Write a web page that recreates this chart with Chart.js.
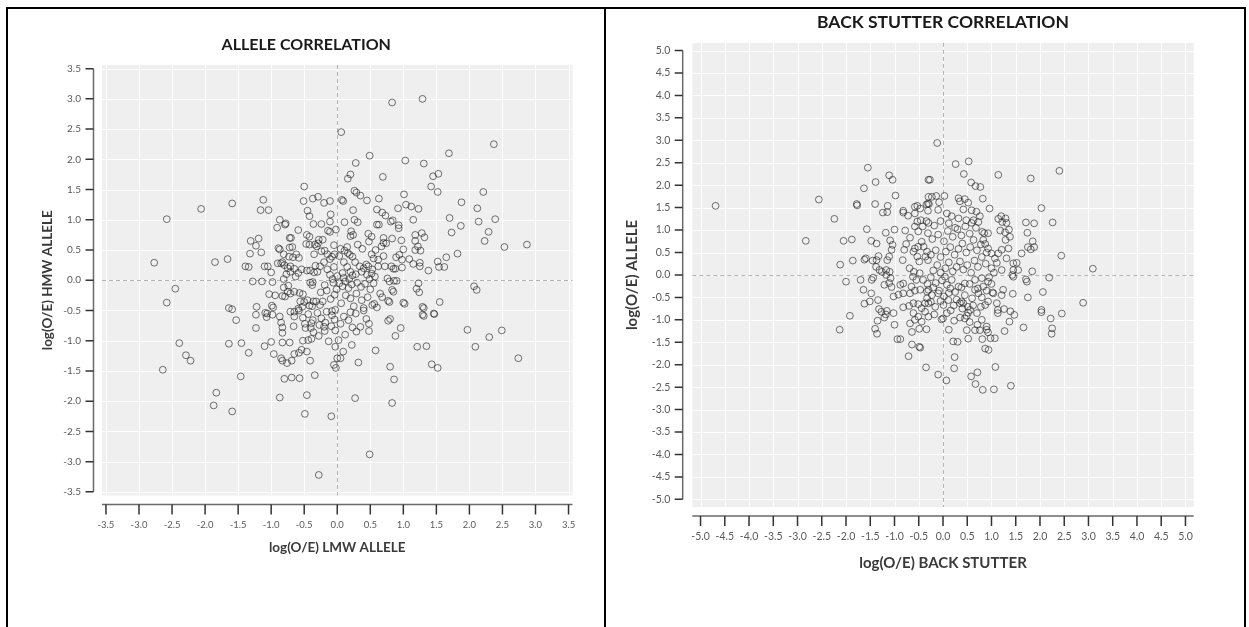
<!DOCTYPE html>
<html>
<head>
<meta charset="utf-8">
<script src="https://cdn.jsdelivr.net/npm/chart.js@4.4.1/dist/chart.umd.min.js"></script>
<style>
  html, body { margin: 0; padding: 0; background: #fff; }
  body { width: 1249px; height: 627px; position: relative; overflow: hidden; }
  canvas { position: absolute; top: 0; }
  #left { left: 0; }
  #right { left: 606px; }
  .frame { position: absolute; left: 6px; top: 7px; width: 1240px; height: 700px; border: 2px solid #000; box-sizing: border-box; }
  .divider { position: absolute; left: 604px; top: 7px; width: 2px; height: 700px; background: #000; }
</style>
</head>
<body>
<canvas id="left" width="604" height="627"></canvas>
<canvas id="right" width="643" height="627"></canvas>
<div class="frame"></div>
<div class="divider"></div>
<script>
// ---- data: [x, y] ----
const alleleTitle = 'ALLELE CORRELATION';
const alleleXLabel = 'log(O/E) LMW ALLELE';
const alleleYLabel = 'log(O/E) HMW ALLELE';
const alleleTicks = [-3.5, -3, -2.5, -2, -1.5, -1, -0.5, 0, 0.5, 1, 1.5, 2, 2.5, 3, 3.5];

const alleleCorrPoints = [
  [0.83,2.94],[1.29,3.00],[0.06,2.45],[0.49,2.06],[0.28,1.94],[0.20,1.75],[0.16,1.68],[1.03,1.98],
  [1.31,1.93],[1.69,2.10],[2.37,2.25],[0.69,1.71],[1.45,1.72],[1.53,1.76],[1.42,1.55],[1.52,1.46],
  [2.21,1.46],[-0.50,1.55],
  [0.26,1.48],[0.29,1.45],[0.35,1.40],[0.07,1.33],[0.09,1.31],[0.45,1.32],[0.63,1.35],[1.01,1.42],
  [1.88,1.29],[2.12,1.19],[-0.51,1.31],[-0.37,1.35],[-0.29,1.38],[-0.20,1.28],[-0.11,1.31],[-0.45,1.15],
  [-0.42,1.06],[0.92,1.19],[1.04,1.25],[1.12,1.22],[1.23,1.18],[0.60,1.17],[0.68,1.12],[0.73,1.07],
  [0.24,1.16],[-0.10,1.09],[-1.12,1.33],[-1.16,1.16],[-1.04,1.16],[-0.87,1.00],[-2.06,1.18],[-1.59,1.27],
  [-2.58,1.01],[0.11,0.96],[0.26,1.00],[0.31,0.96],[-0.11,0.97],[1.15,1.00],[1.70,1.03],[2.14,0.97],
  [2.39,1.01],[0.81,0.97],[0.84,0.99],
  [0.60,0.92],[0.63,0.92],[0.93,0.91],[0.93,0.86],[1.87,0.90],[2.29,0.80],[2.23,0.65],[2.53,0.55],
  [2.87,0.59],[1.73,0.79],[-0.91,0.87],[-0.79,0.92],[-0.78,0.94],[-0.59,0.83],[-0.46,0.75],[-0.42,0.72],
  [-0.36,0.93],[-0.24,0.93],[-0.14,0.82],[-0.11,0.80],[-0.02,0.84],[0.21,0.81],[0.24,0.75],[0.20,0.73],
  [0.47,0.77],[0.52,0.72],[0.48,0.64],[0.70,0.70],[0.70,0.62],[0.67,0.56],[0.74,0.61],[0.31,0.59],
  [0.83,0.69],[0.97,0.66],[1.18,0.75],[1.28,0.78],[1.32,0.71],[1.18,0.65],[1.22,0.56],[1.26,0.49],
  [1.18,0.50],[1.00,0.51],[-1.31,0.65],[-1.23,0.57],[-1.19,0.69],[-0.89,0.53],[-0.87,0.51],[-0.72,0.70],
  [-0.70,0.70],[-0.72,0.54],[-0.68,0.55],[-0.47,0.60],[-0.42,0.59],[-0.34,0.59],[-0.28,0.67],[-0.22,0.67],
  [-0.29,0.61],[0.11,0.49],[0.05,0.52],[0.15,0.55],[-0.05,0.58],[0.38,0.52],[0.58,0.50],
  [-2.77,0.29],[-1.85,0.30],[-1.66,0.35],[-1.39,0.23],[-1.34,0.22],[-1.32,0.44],[-1.15,0.46],[-1.10,0.23],
  [-1.05,0.23],[-1.00,0.13],[-0.90,0.28],[-0.85,0.28],[-0.81,0.43],[-0.83,0.30],[-0.80,0.25],[-0.75,0.20],
  [-0.77,0.10],[-0.81,0.02],[-0.73,0.39],[-0.67,0.38],[-0.62,0.43],[-0.58,0.37],[-0.71,0.23],[-0.65,0.19],
  [-0.71,0.14],[-0.63,0.06],[-0.59,0.12],[-0.54,0.18],[-0.46,0.16],[-0.41,0.16],[-0.35,0.43],[-0.31,0.56],
  [-0.24,0.48],[-0.19,0.49],[-0.15,0.43],[-0.33,0.24],[-0.35,0.13],[-0.30,0.14],[-0.26,0.23],[-0.11,0.35],
  [-0.08,0.39],[-0.04,0.43],[-0.11,0.09],[-0.07,0.02],[0.00,0.07],[0.03,0.40],[0.19,0.42],[0.27,0.30],
  [0.34,0.23],[0.37,0.14],[0.45,0.09],[0.49,0.02],[0.52,0.43],[0.55,0.36],[0.62,0.34],[0.70,0.40],
  [0.89,0.38],[0.94,0.42],[0.98,0.34],[0.82,0.23],[0.85,0.19],[0.88,0.19],[0.98,0.21],[0.76,0.03],
  [1.09,0.35],[1.15,0.27],[1.25,0.29],[1.25,0.23],[1.52,0.31],[1.65,0.38],[1.54,0.22],[1.62,0.22],
  [1.38,0.16],[1.82,0.44],[0.47,0.23],[0.53,0.18],[0.62,0.23],[0.72,0.23],[0.52,0.11],[0.57,0.06],
  [0.16,0.45],[0.23,0.39],[0.10,0.30],[0.15,0.22],[0.20,0.14],[0.28,0.10],[0.08,0.12],[0.10,0.04],
  [0.18,0.02],[0.23,0.08],[0.40,0.20],[0.44,0.26],[-0.20,0.30],[-0.15,0.18],[-0.05,0.22],
  [-2.58,-0.37],[-2.45,-0.14],[-1.64,-0.46],[-1.59,-0.48],[-1.28,-0.02],[-1.14,-0.02],[-0.98,-0.03],[-1.03,-0.23],
  [-0.94,-0.25],[-0.97,-0.45],[-1.22,-0.44],[-0.99,-0.42],[-0.74,-0.09],[-0.81,-0.12],[-0.83,-0.26],[-0.79,-0.27],
  [-0.75,-0.19],[-0.71,-0.22],[-0.65,-0.19],[-0.57,-0.21],[-0.52,-0.23],[-0.50,-0.36],[-0.56,-0.35],[-0.45,-0.33],
  [-0.36,-0.35],[-0.32,-0.35],[-0.22,-0.35],[-0.42,-0.42],[-0.38,-0.43],[-0.26,-0.41],[-0.53,-0.44],[-0.59,-0.47],
  [-0.41,-0.04],[-0.37,-0.03],[-0.38,-0.08],[-0.19,-0.08],[-0.06,-0.04],[-0.01,-0.15],[-0.04,-0.24],[-0.10,-0.31],
  [0.79,-0.02],[0.86,-0.01],[0.90,-0.01],[0.83,-0.16],[0.85,-0.19],[1.23,-0.05],[1.20,-0.14],[1.24,-0.20],
  [1.02,-0.39],[0.79,-0.36],[0.68,-0.28],[0.65,-0.22],[1.31,-0.46],[1.55,-0.36],[2.07,-0.10],[2.11,-0.16],
  [0.77,-0.34],[1.00,-0.37],[1.29,-0.44],[0.03,-0.05],[0.08,-0.10],[0.12,-0.02],[0.17,-0.13],[0.22,-0.07],
  [0.30,-0.04],[0.36,-0.11],[0.42,-0.06],[0.50,-0.15],[0.55,-0.05],[0.13,-0.25],[0.20,-0.30],[0.29,-0.22],
  [0.37,-0.33],[0.46,-0.28],[0.56,-0.39],[0.06,-0.38],[0.25,-0.43],[0.40,-0.46],[0.60,-0.45],[-0.16,-0.17],
  [-0.25,-0.20],
  [-1.06,-0.55],[-0.98,-0.57],[-0.16,-0.52],[-0.08,-0.51],[-0.03,-0.49],[-0.65,-0.52],[1.31,-0.59],[1.47,-0.56],
  [1.29,-0.57],[1.46,-0.55],[-1.53,-0.66],[-1.23,-0.57],[-1.09,-0.54],[-1.07,-0.61],[-1.23,-0.79],[-0.87,-0.60],
  [-0.85,-0.70],[-0.83,-0.78],[-0.83,-0.87],[0.77,-0.67],[0.80,-0.64],[0.96,-0.79],[0.88,-0.92],[1.97,-0.82],
  [2.30,-0.94],[2.49,-0.83],[-0.71,-0.52],[-0.65,-0.60],[-0.58,-0.50],[-0.52,-0.62],[-0.44,-0.56],[-0.37,-0.66],
  [-0.30,-0.54],[-0.24,-0.63],[-0.18,-0.70],[-0.66,-0.76],[-0.49,-0.72],[-0.48,-0.79],[-0.40,-0.79],[-0.39,-0.71],
  [-0.36,-0.86],[-0.27,-0.74],[-0.20,-0.77],[-0.19,-0.84],[-0.09,-0.76],[-0.08,-0.58],[-0.04,-0.65],
  [0.02,-0.99],[0.17,-0.66],[0.20,-0.53],[0.28,-0.55],[0.29,-0.85],[0.35,-0.77],[0.44,-0.64],[0.48,-0.72],
  [0.48,-0.84],[0.53,-0.41],[0.40,-0.50],[0.10,-0.60],[0.05,-0.72],[0.23,-0.78],[0.12,-0.90],
  [-2.39,-1.04],[-2.29,-1.24],[-2.22,-1.33],[-2.64,-1.48],[-1.64,-1.05],[-1.45,-1.04],[-1.34,-1.20],[-1.10,-1.09],
  [-1.00,-1.02],[-0.83,-1.03],[-0.72,-1.03],[-0.96,-1.22],[-0.85,-1.29],[-0.83,-1.33],[-0.76,-1.37],[-0.69,-1.33],
  [-0.65,-1.22],[-0.58,-1.20],[-0.54,-1.15],[-0.46,-1.18],[-0.41,-1.33],[-0.52,-1.00],[-0.44,-0.99],[-0.39,-0.97],
  [-0.28,-0.92],[-0.13,-1.01],[-0.03,-0.83],[-0.05,-1.40],[-0.02,-1.45],[0.00,-1.29],[0.58,-1.16],[0.22,-1.07],
  [0.32,-1.36],[0.80,-1.43],[1.21,-1.10],[1.35,-1.09],[1.43,-1.39],[1.52,-1.45],[2.09,-1.10],[2.74,-1.29],
  [0.09,-1.18],[0.05,-1.29],[-0.03,-1.10],
  [-0.80,-1.63],[-0.69,-1.61],[-0.57,-1.62],[-1.46,-1.59],[-0.34,-1.57],[-1.83,-1.86],[-1.87,-2.07],[-1.59,-2.17],
  [-0.87,-1.94],[-0.46,-1.90],[-0.49,-2.21],[-0.09,-2.25],[-0.28,-3.22],[0.86,-1.64],[0.27,-1.95],[0.83,-2.03],
  [0.49,-2.88]
];

const stutterTitle = 'BACK STUTTER CORRELATION';
const stutterXLabel = 'log(O/E) BACK STUTTER';
const stutterYLabel = 'log(O/E) ALLELE';
const stutterTicks = [-5, -4.5, -4, -3.5, -3, -2.5, -2, -1.5, -1, -0.5, 0, 0.5, 1, 1.5, 2, 2.5, 3, 3.5, 4, 4.5, 5];

const stutterCorrPoints = [
  [-4.69,1.54],[-2.56,1.68],[-2.24,1.25],[-2.83,0.76],[-2.05,0.76],[-1.88,0.79],[-2.12,0.23],[-1.86,0.32],
  [-1.78,1.58],[-1.77,1.55],[-1.63,1.93],[-1.55,2.39],[-1.39,2.07],[-1.40,1.58],[-1.57,1.02],[-1.48,0.76],
  [-1.37,0.70],[-1.62,0.34],[-1.59,0.37],[-1.45,0.32],[-1.37,0.33],[-1.33,0.42],[-1.38,0.18],[-1.31,0.11],
  [-1.17,0.11],[-1.10,0.07],[-1.11,2.22],[-1.04,2.12],[-0.98,1.77],[-1.14,1.54],[-1.24,1.39],[-1.15,1.40],
  [-1.00,1.01],[-1.18,0.94],[-1.09,0.77],[-1.04,0.67],[-1.06,0.56],[-1.15,0.33],[-1.11,0.41],[-0.82,1.43],
  [-0.82,1.39],[-0.72,1.32],[-0.78,0.99],[-0.68,0.83],[-0.76,0.69],[-0.80,0.56],[-0.83,0.33],[-0.69,0.15],
  [-0.58,1.52],[-0.53,1.54],[-0.47,1.48],[-0.34,1.57],[-0.30,2.12],[-0.58,1.37],[-0.53,1.19],[-0.46,1.22],
  [-0.34,1.20],[-0.42,1.08],[-0.58,1.08],[-0.51,0.97],[-0.58,0.59],[-0.51,0.63],[-0.44,0.74],[-0.40,0.63],
  [-0.33,0.52],[-0.61,0.52],[-0.53,0.41],[-0.49,0.30],[-0.60,0.07],[-0.36,0.41],[-0.31,0.33],[-0.30,1.74],
  [-0.31,1.59],[-0.31,1.43],[-0.30,1.16],[-0.31,0.93],
  [-0.12,2.94],[0.26,2.47],[0.53,2.53],[0.43,2.25],[0.58,2.06],[0.67,1.98],[0.77,1.96],[1.14,2.23],
  [1.81,2.15],[2.40,2.32],[-0.27,2.12],[0.82,1.70],[0.96,1.48],[0.32,1.71],[0.45,1.69],[0.52,1.61],
  [0.35,1.64],[-0.14,1.76],[-0.23,1.74],[-0.08,1.62],[0.03,1.76],[-0.29,1.58],[-0.10,1.45],[0.08,1.37],
  [0.18,1.31],[0.32,1.26],[0.42,1.46],[0.59,1.44],[0.69,1.41],[0.63,1.22],[0.59,1.16],[0.73,1.18],
  [0.76,1.31],[0.85,0.93],[0.81,0.96],[1.14,1.25],[1.20,1.31],[1.29,1.26],[1.31,1.16],[1.22,1.18],
  [1.71,1.17],[1.88,1.15],[2.03,1.49],[2.26,1.17],[1.74,0.94],[1.85,0.75],[1.75,0.62],[1.81,0.57],
  [1.88,0.62],[1.62,0.48],[2.44,0.43],[3.09,0.14],[1.84,0.08],[2.19,-0.06],
  [1.18,0.99],[1.28,0.95],[1.36,1.01],[1.38,0.85],[1.29,0.78],[1.35,0.59],[1.21,0.56],[1.14,0.48],
  [1.31,0.37],[1.45,0.26],[1.52,0.27],[1.45,0.11],[1.55,0.11],[1.43,0.00],[0.93,0.93],[0.83,0.78],
  [0.87,0.69],[0.93,0.59],[1.00,0.48],[1.07,0.37],[1.11,0.27],[1.00,0.15],[1.21,0.11],
  [-2.00,-0.15],[-1.70,-0.11],[-1.47,-0.11],[-1.44,-0.06],[-1.64,-0.33],[-1.48,-0.41],[-1.62,-0.64],[-1.51,-0.59],
  [-1.34,-0.56],[-1.92,-0.91],[-2.13,-1.22],[-1.40,-1.20],[-1.36,-1.31],[-1.32,-0.76],[-1.27,-0.82],[-1.18,-0.88],
  [-1.16,-0.80],[-1.02,-0.85],[-1.35,-1.02],[-1.21,-0.95],[-1.00,-1.11],[-0.94,-1.43],[-0.88,-1.43],[-0.64,-1.27],
  [-0.49,-1.20],[-0.34,-1.21],[-0.64,-1.55],[-0.49,-1.60],[-0.47,-1.62],[-0.71,-1.81],[-0.35,-2.06],[-0.82,-0.72],
  [-0.70,-0.69],[-0.61,-0.63],[-0.51,-0.65],[-0.44,-0.74],[-1.02,-0.48],[-0.92,-0.44],[-0.82,-0.41],[-0.68,-0.41],
  [-0.58,-0.35],[-0.47,-0.33],[-0.33,-0.37],[-0.88,-0.22],[-0.82,-0.19],[-0.65,-0.26],[-0.55,-0.11],[-0.41,-0.11],
  [-0.48,0.04],[-0.62,-0.04],[-1.26,0.07],[-1.17,0.00],[-1.08,-0.07],[-1.11,-0.18],[-1.21,-0.22],[-1.06,-0.27],
  [-0.68,-1.08],[-0.58,-1.00],[-0.44,-1.04],[-0.61,-0.85],[-0.51,-0.93],[-0.37,-0.82],[-0.30,-0.93],[-0.33,-0.52],
  [-0.30,-0.63],
  [2.06,-0.38],[2.89,-0.62],[2.45,-0.86],[2.03,-0.78],[2.03,-0.83],[2.22,-0.97],[2.25,-1.19],[2.24,-1.31],
  [1.66,-1.17],[1.75,-0.50],[1.44,-0.42],[1.71,-0.10],[1.73,-0.15],[1.45,-0.04],[1.26,-0.76],[1.39,-0.81],
  [1.47,-0.89],[1.13,-0.78],[1.13,-0.85],[1.37,-1.04],[1.27,-1.25],[1.07,-1.41],[0.98,-1.41],[0.93,-1.28],
  [0.90,-1.22],[0.87,-1.64],[0.94,-1.67],[1.08,-2.05],[1.40,-2.47],[1.05,-2.55],[0.82,-2.56],[0.67,-2.43],
  [0.58,-2.26],[0.71,-2.17],[0.24,-1.83],[0.23,-2.08],[0.07,-2.35],[-0.10,-2.22],[0.21,-1.48],[0.30,-1.49],
  [0.12,-1.22],[-0.03,-0.99],[0.00,-0.97],[0.23,-1.02],[0.16,-0.79],[0.52,-1.42],[0.81,-1.43],
  [0.49,-1.23],[0.66,-1.23],[0.76,-1.23],[0.71,-1.11],[0.80,-1.00],[0.90,-1.15],[0.49,-0.91],[0.52,-0.84],
  [0.45,-0.97],[0.56,-0.78],[0.51,-0.71],[0.42,-0.63],[0.35,-0.63],[0.38,-0.59],[0.78,-0.71],[0.87,-0.67],
  [0.93,-0.59],[1.04,-0.41],[1.11,-0.63],[1.21,-0.45],[1.24,-0.33],[1.02,-0.39],[0.73,-0.41],[0.66,-0.33],
  [0.83,-0.26],[0.93,-0.15],[0.80,-0.07],[0.66,-0.11],[0.45,-0.19],[0.32,-0.26],[0.18,-0.11],[0.04,-0.04],
  [-0.10,-0.41],[-0.23,-0.45],[-0.30,-0.33],[-0.37,-0.63],[-0.16,-0.71],[0.01,-0.67],[0.11,-0.56],
  [-0.20,0.10],[-0.12,0.22],[-0.05,0.05],[0.05,0.15],[0.12,0.28],[0.20,0.08],[0.28,0.18],[0.35,0.30],
  [0.42,0.12],[0.50,0.22],[0.58,0.05],[0.65,0.32],[0.72,0.18],[0.80,0.40],[0.88,0.25],[-0.25,0.45],
  [-0.15,0.55],[-0.05,0.40],[0.06,0.52],[0.15,0.62],[0.24,0.45],[0.32,0.58],[0.40,0.70],[0.48,0.50],
  [0.56,0.62],[0.63,0.78],[0.70,0.55],[0.78,0.68],[0.90,0.50],[-0.22,0.80],[-0.10,0.90],[0.02,0.75],
  [0.10,0.98],[0.20,0.85],[0.30,1.02],[0.38,0.88],[0.46,1.08],[0.55,0.92],[0.68,1.05],[-0.18,1.10],
  [-0.05,1.20],[0.12,1.15],[0.25,1.05],[0.48,1.22],
  [-0.25,-0.05],[-0.15,-0.18],[-0.02,-0.12],[0.08,-0.22],[0.15,-0.30],[0.25,-0.38],[0.38,-0.28],[0.45,-0.45],
  [0.55,-0.20],[0.60,-0.52],[0.72,-0.30],[0.80,-0.50],[-0.20,-0.28],[-0.08,-0.35],[0.02,-0.48],[0.12,-0.40],
  [0.28,-0.55],[0.40,-0.75],[0.22,-0.68],[-0.05,-0.58],[0.62,-0.68],[0.70,-0.85],[0.55,-1.05],[0.35,-0.95],
  [0.08,-0.85],[-0.18,-0.88],[-0.25,-0.60],[-0.32,-0.20],[0.90,-0.35],[1.00,-0.20],[1.05,0.05],[0.95,-0.05]
];

const FONT = 'Lato, "Noto Sans", sans-serif';

// grey panel, white grid, dashed zero lines, and detached axis lines with ticks
const panelPlugin = {
  id: 'panel',
  beforeDatasetsDraw(chart) {
    const { ctx, chartArea: a, scales: { x, y } } = chart;
    ctx.save();
    ctx.fillStyle = '#efefef';
    ctx.fillRect(a.left, a.top, a.right - a.left, a.bottom - a.top);
    ctx.strokeStyle = 'rgba(255,255,255,0.95)';
    ctx.lineWidth = 1;
    ctx.beginPath();
    x.ticks.forEach(t => {
      const px = Math.round(x.getPixelForValue(t.value)) + 0.5;
      ctx.moveTo(px, a.top); ctx.lineTo(px, a.bottom);
    });
    y.ticks.forEach(t => {
      const py = Math.round(y.getPixelForValue(t.value)) + 0.5;
      ctx.moveTo(a.left, py); ctx.lineTo(a.right, py);
    });
    ctx.stroke();
    // zero reference lines
    ctx.setLineDash([4, 3]);
    ctx.strokeStyle = '#b4b4b4';
    ctx.beginPath();
    const x0 = Math.round(x.getPixelForValue(0)) + 0.5;
    const y0 = Math.round(y.getPixelForValue(0)) + 0.5;
    ctx.moveTo(x0, a.top); ctx.lineTo(x0, a.bottom);
    ctx.moveTo(a.left, y0); ctx.lineTo(a.right, y0);
    ctx.stroke();
    ctx.restore();
  },
  afterDraw(chart, args, opts) {
    const { ctx, chartArea: a, scales: { x, y } } = chart;
    const axX = a.left - opts.gapY;
    const axY = a.bottom + opts.gapX;
    ctx.save();
    ctx.strokeStyle = '#6a6a6a';
    ctx.lineWidth = 1.5;
    ctx.beginPath();
    const yt = y.ticks.map(t => y.getPixelForValue(t.value));
    ctx.moveTo(axX, Math.min(...yt)); ctx.lineTo(axX, Math.max(...yt));
    ctx.moveTo(a.left, axY); ctx.lineTo(a.right, axY);
    ctx.stroke();
    ctx.strokeStyle = '#333';
    ctx.beginPath();
    yt.forEach(py => { ctx.moveTo(axX - opts.tickLen, py); ctx.lineTo(axX, py); });
    x.ticks.forEach(t => {
      const px = x.getPixelForValue(t.value);
      ctx.moveTo(px, axY); ctx.lineTo(px, axY + opts.tickLen + 2);
    });
    ctx.stroke();
    ctx.restore();
  }
};

function makeScale(cfg, horizontal) {
  const range = horizontal ? cfg.xRange : cfg.yRange;
  return {
    type: 'linear',
    min: -range,
    max: range,
    afterBuildTicks: s => { s.ticks = cfg.ticks.map(v => ({ value: v })); },
    afterFit: s => { if (horizontal) s.height = cfg.xHeight; else s.width = cfg.yWidth; },
    grid: { display: false, drawTicks: false },
    border: { display: false },
    ticks: {
      autoSkip: false,
      maxRotation: 0,
      padding: horizontal ? cfg.xTickPad : cfg.yTickPad,
      color: '#5a5a5a',
      font: { family: FONT, size: horizontal ? cfg.xTickSize : cfg.yTickSize },
      callback: v => v.toFixed(1)
    },
    title: {
      display: true,
      text: horizontal ? cfg.xLabel : cfg.yLabel,
      color: '#3a3a3a',
      font: { family: FONT, size: cfg.axisTitleSize, weight: 'bold' },
      padding: horizontal ? { top: 0, bottom: cfg.xTitleBottom } : { top: cfg.yTitleTop, bottom: 0 }
    }
  };
}

function makeChart(id, cfg) {
  return new Chart(document.getElementById(id), {
    type: 'scatter',
    data: {
      datasets: [{
        data: cfg.points.map(([x, y]) => ({ x, y })),
        pointRadius: 3.4,
        pointBorderWidth: 1,
        pointBorderColor: 'rgba(30,30,30,0.62)',
        pointBackgroundColor: 'rgba(0,0,0,0)'
      }]
    },
    options: {
      responsive: false,
      animation: false,
      devicePixelRatio: 1,
      layout: { padding: cfg.padding },
      plugins: {
        legend: { display: false },
        tooltip: { enabled: false },
        title: {
          display: true,
          text: cfg.title,
          fullSize: cfg.titleFull,
          color: '#1a1a1a',
          font: { family: FONT, size: cfg.titleSize, weight: 'bold' },
          padding: cfg.titlePad
        },
        panel: cfg.axes
      },
      scales: {
        x: makeScale(cfg, true),
        y: makeScale(cfg, false)
      }
    },
    plugins: [panelPlugin]
  });
}

makeChart('left', {
  points: alleleCorrPoints, title: alleleTitle, xLabel: alleleXLabel, yLabel: alleleYLabel,
  ticks: alleleTicks, xRange: 3.56, yRange: 3.56, titleFull: true,
  padding: { left: 40, right: 31.5, top: 0, bottom: 0 },
  titleSize: 16, titlePad: { top: 35.4, bottom: 10.4 },
  axisTitleSize: 13.5, xTickSize: 9.5, yTickSize: 10,
  xHeight: 131.5, yWidth: 62, xTickPad: 24, yTickPad: 21, xTitleBottom: 70.9, yTitleTop: 0,
  axes: { gapX: 9, gapY: 8.5, tickLen: 8 }
});

makeChart('right', {
  points: stutterCorrPoints, title: stutterTitle, xLabel: stutterXLabel, yLabel: stutterYLabel,
  ticks: stutterTicks, xRange: 5.17, yRange: 5.17, titleFull: false,
  padding: { left: 10, right: 55.3, top: 0, bottom: 0 },
  titleSize: 17.5, titlePad: { top: 11.5, bottom: 10.4 },
  axisTitleSize: 15, xTickSize: 10.5, yTickSize: 10.5,
  xHeight: 120, yWidth: 76.3, xTickPad: 23, yTickPad: 22, xTitleBottom: 55, yTitleTop: 7,
  axes: { gapX: 9, gapY: 9.6, tickLen: 8 }
});
</script>
</body>
</html>
